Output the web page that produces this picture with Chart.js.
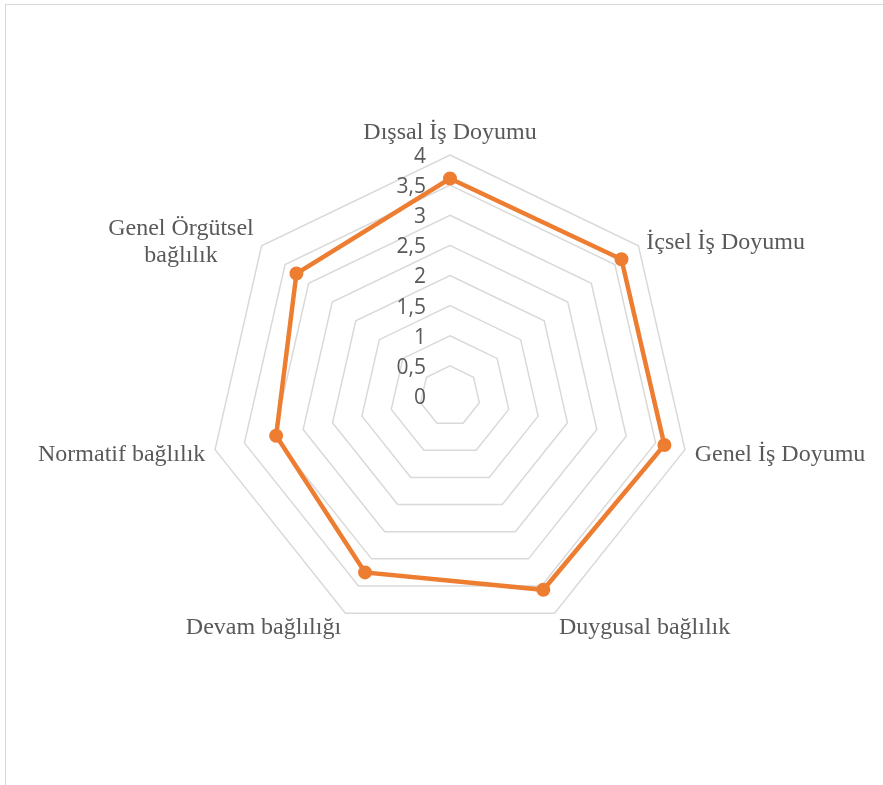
<!DOCTYPE html>
<html>
<head>
<meta charset="utf-8">
<script src="https://cdn.jsdelivr.net/npm/chart.js@4"></script>
<style>
html,body{margin:0;padding:0;background:#fff;overflow:hidden;}
#wrap{position:absolute;left:0;top:0;width:883px;height:785px;}
#frame{position:absolute;left:5px;top:4px;width:900px;height:800px;border-top:1.5px solid #d9d9d9;border-left:1.5px solid #d9d9d9;box-sizing:border-box;}
canvas{position:absolute;left:0;top:0;}
</style>
</head>
<body>
<div id="wrap">
<div id="frame"></div>
<canvas id="c" width="883" height="785"></canvas>
</div>
<script>
const categories = [
  ["Dışsal İş Doyumu"],
  ["İçsel İş Doyumu"],
  ["Genel İş Doyumu"],
  ["Duygusal bağlılık"],
  ["Devam bağlılığı"],
  ["Normatif bağlılık"],
  ["Genel Örgütsel", "bağlılık"]
];
const values = [3.61, 3.64, 3.65, 3.57, 3.25, 2.96, 3.26];
const tickValues = [0, 0.5, 1, 1.5, 2, 2.5, 3, 3.5, 4];
const tickLabels = ["0", "0,5", "1", "1,5", "2", "2,5", "3", "3,5", "4"];

const labelPlugin = {
  id: 'customLabels',
  afterDraw(chart) {
    const scale = chart.scales.r;
    const ctx = chart.ctx;
    ctx.save();
    // tick labels
    ctx.font = '21px "Open Sans"';
    ctx.fillStyle = '#595959';
    ctx.textAlign = 'right';
    ctx.textBaseline = 'middle';
    tickValues.forEach((v, i) => {
      const d = scale.getDistanceFromCenterForValue(v);
      ctx.fillText(tickLabels[i], scale.xCenter - 24, scale.yCenter - d + 2);
    });
    // point labels
    ctx.font = '24px "Liberation Serif"';
    const lh = 27;
    categories.forEach((lines, i) => {
      const p = scale.getPointPosition(i, scale.drawingArea + 10);
      const dx = p.x - scale.xCenter;
      const dy = p.y - scale.yCenter;
      let cx = p.x, cy = p.y + 3;
      const widths = lines.map(t => ctx.measureText(t).width);
      const maxW = Math.max(...widths);
      if (Math.abs(dx) < 1) {
        cx = p.x; cy = p.y - 12;
      } else if (dx > 0) {
        cx = p.x + maxW / 2;
      } else {
        cx = p.x - maxW / 2;
      }
      if (dy > scale.drawingArea * 0.7) cy += 3;
      ctx.textAlign = 'center';
      ctx.textBaseline = 'middle';
      const top = cy - (lines.length - 1) * lh / 2;
      lines.forEach((t, k) => ctx.fillText(t, cx, top + k * lh));
    });
    ctx.restore();
  }
};

new Chart(document.getElementById('c'), {
  type: 'radar',
  data: {
    labels: categories,
    datasets: [{
      data: values,
      borderColor: '#ED7D31',
      backgroundColor: '#ED7D31',
      pointBackgroundColor: '#ED7D31',
      pointBorderColor: '#ED7D31',
      borderWidth: 4.5,
      pointRadius: 6,
      pointBorderWidth: 2,
      fill: false,
      tension: 0
    }]
  },
  options: {
    responsive: false,
    animation: false,
    layout: { padding: { left: 209, top: 155, right: 192, bottom: 148 } },
    plugins: { legend: { display: false }, tooltip: { enabled: false } },
    scales: {
      r: {
        min: 0, max: 4,
        ticks: { display: false, stepSize: 0.5 },
        grid: { color: '#d9d9d9', lineWidth: 1.5 },
        angleLines: { display: false },
        pointLabels: { display: false }
      }
    }
  },
  plugins: [labelPlugin]
});
</script>
</body>
</html>
